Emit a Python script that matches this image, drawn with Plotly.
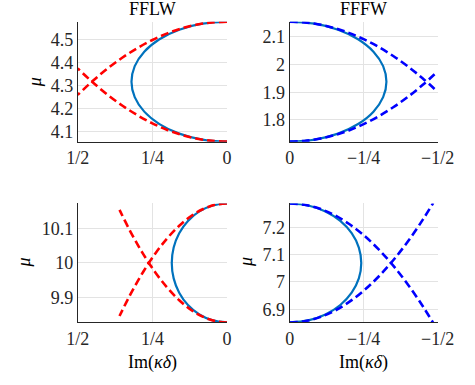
import plotly.graph_objects as go

# ---------------- data ----------------
# Column FFLW, row 1
fflw1_solid_x = [0, 0.0828, 0.16, 0.2263, 0.2771, 0.3091, 0.32, 0.3091, 0.2771, 0.2263, 0.16, 0.0828, 0]
fflw1_solid_mu = [4.576, 4.5672, 4.5413, 4.5001, 4.4465, 4.3840, 4.317, 4.2500, 4.1875, 4.1339, 4.0927, 4.0668, 4.058]
fflw1_dash_x = [0, 0.05, 0.1, 0.15, 0.2, 0.25, 0.3, 0.35, 0.4, 0.45, 0.5]
fflw1_dash_up = [4.576, 4.5728, 4.5633, 4.5475, 4.5254, 4.4969, 4.4621, 4.4210, 4.3736, 4.3198, 4.2597]
fflw1_dash_lo = [4.058, 4.0612, 4.0707, 4.0865, 4.1086, 4.1371, 4.1719, 4.2130, 4.2604, 4.3142, 4.3743]

# Column FFFW, row 1
fffw1_solid_x = [0, -0.0846, -0.1635, -0.2312, -0.2832, -0.3159, -0.327, -0.3159, -0.2832, -0.2312, -0.1635, -0.0846, 0]
fffw1_solid_mu = [2.154, 2.1466, 2.1251, 2.0907, 2.046, 1.9939, 1.938, 1.8821, 1.830, 1.7853, 1.7509, 1.7294, 1.722]
fffw1_dash_x = [0, -0.05, -0.1, -0.15, -0.2, -0.25, -0.3, -0.35, -0.4, -0.45, -0.5]
fffw1_dash_up = [2.154, 2.1515, 2.1439, 2.1313, 2.1136, 2.0909, 2.0631, 2.0303, 1.9924, 1.9495, 1.9015]
fffw1_dash_lo = [1.722, 1.7245, 1.7321, 1.7447, 1.7624, 1.7851, 1.8129, 1.8457, 1.8836, 1.9265, 1.9745]

# Column FFLW, row 2
fflw2_solid_x = [0, 0.0479, 0.0925, 0.1308, 0.1602, 0.1787, 0.185, 0.1787, 0.1602, 0.1308, 0.0925, 0.0479, 0]
fflw2_solid_mu = [10.172, 10.1661, 10.149, 10.1216, 10.086, 10.0445, 10.0, 9.9555, 9.914, 9.8784, 9.851, 9.8339, 9.828]
fflw2_dash_x = [0, 0.04, 0.08, 0.12, 0.16, 0.2, 0.24, 0.28, 0.32, 0.36]
fflw2_dash_up = [10.172, 10.168, 10.1559, 10.1359, 10.1077, 10.0716, 10.0274, 9.9752, 9.915, 9.8467]
fflw2_dash_lo = [9.828, 9.832, 9.8441, 9.8641, 9.8923, 9.9284, 9.9726, 10.0248, 10.085, 10.1533]

# Column FFFW, row 2
fffw2_solid_x = [0, -0.0626, -0.121, -0.1711, -0.2096, -0.2338, -0.242, -0.2338, -0.2096, -0.1711, -0.121, -0.0626, 0]
fffw2_solid_mu = [7.2875, 7.2801, 7.2583, 7.2236, 7.1785, 7.1259, 7.0695, 7.0131, 6.9605, 6.9154, 6.8807, 6.8589, 6.8515]
fffw2_dash_x = [0, -0.05, -0.1, -0.15, -0.2, -0.25, -0.3, -0.35, -0.4, -0.45, -0.485]
fffw2_dash_up = [7.2875, 7.2829, 7.2689, 7.2457, 7.2131, 7.1713, 7.1201, 7.0597, 6.9899, 6.9109, 6.85]
fffw2_dash_lo = [6.8515, 6.8562, 6.8701, 6.8934, 6.9259, 6.9678, 7.0189, 7.0794, 7.1491, 7.2282, 7.289]

# tick labels
left_xticks = [0.5, 0.25, 0]
left_xlabels = ["1/2", "1/4", "0"]
right_xticks = [0, -0.25, -0.5]
right_xlabels = ["0", "\u22121/4", "\u22121/2"]
fflw1_yticks = [4.1, 4.2, 4.3, 4.4, 4.5]
fflw1_ylabels = ["4.1", "4.2", "4.3", "4.4", "4.5"]
fffw1_yticks = [1.8, 1.9, 2.0, 2.1]
fffw1_ylabels = ["1.8", "1.9", "2", "2.1"]
fflw2_yticks = [9.9, 10.0, 10.1]
fflw2_ylabels = ["9.9", "10", "10.1"]
fffw2_yticks = [6.9, 7.0, 7.1, 7.2]
fffw2_ylabels = ["6.9", "7", "7.1", "7.2"]

# ---------------- styling ----------------
SOLID = "#0072BD"
FONT = "Liberation Serif, Times New Roman, serif"
FS = 18
W, H = 475, 385

fig = go.Figure()

panels = [
    ("x", "y", fflw1_solid_x, fflw1_solid_mu, fflw1_dash_x, fflw1_dash_up, fflw1_dash_lo, "#FF0000"),
    ("x2", "y2", fffw1_solid_x, fffw1_solid_mu, fffw1_dash_x, fffw1_dash_up, fffw1_dash_lo, "#0000FF"),
    ("x3", "y3", fflw2_solid_x, fflw2_solid_mu, fflw2_dash_x, fflw2_dash_up, fflw2_dash_lo, "#FF0000"),
    ("x4", "y4", fffw2_solid_x, fffw2_solid_mu, fffw2_dash_x, fffw2_dash_up, fffw2_dash_lo, "#0000FF"),
]
for xa, ya, sx, sy, dx, du, dl, dc in panels:
    fig.add_trace(go.Scatter(x=sx, y=sy, mode="lines", xaxis=xa, yaxis=ya,
                             line=dict(color=SOLID, width=2.2, shape="spline", smoothing=1.0),
                             showlegend=False, hoverinfo="skip"))
    for dy in (du, dl):
        fig.add_trace(go.Scatter(x=dx, y=dy, mode="lines", xaxis=xa, yaxis=ya,
                                 line=dict(color=dc, width=2.6, dash="8px,4px", shape="spline"),
                                 showlegend=False, hoverinfo="skip"))

def px_x(a, b):
    return [a / W, b / W]

def px_y(top, bottom):
    return [1 - bottom / H, 1 - top / H]

LX = px_x(70, 229)
RX = px_x(295.7, 453.3)
TY = px_y(21.7, 142)
BY = px_y(204, 323.3)

def axis(**kw):
    d = dict(showline=True, linecolor="#262626", linewidth=1, mirror=False,
             showgrid=True, gridcolor="#E3E3E3", gridwidth=1, zeroline=False,
             ticks="", tickmode="array",
             tickfont=dict(family=FONT, size=FS, color="#262626"),
             fixedrange=True)
    d.update(kw)
    return d

fig.update_layout(
    width=W, height=H, autosize=False,
    margin=dict(l=0, r=0, t=0, b=0),
    font=dict(family=FONT, size=FS, color="#262626"),
    paper_bgcolor="white", plot_bgcolor="white",
    xaxis=axis(domain=LX, range=[0.5, 0], anchor="y",
               tickvals=left_xticks, ticktext=left_xlabels),
    yaxis=axis(domain=TY, range=[4.058, 4.576], anchor="x",
               tickvals=fflw1_yticks, ticktext=fflw1_ylabels),
    xaxis2=axis(domain=RX, range=[0, -0.5], anchor="y2",
                tickvals=right_xticks, ticktext=right_xlabels),
    yaxis2=axis(domain=TY, range=[1.722, 2.154], anchor="x2",
                tickvals=fffw1_yticks, ticktext=fffw1_ylabels),
    xaxis3=axis(domain=LX, range=[0.5, 0], anchor="y3",
                tickvals=left_xticks, ticktext=left_xlabels),
    yaxis3=axis(domain=BY, range=[9.828, 10.172], anchor="x3",
                tickvals=fflw2_yticks, ticktext=fflw2_ylabels),
    xaxis4=axis(domain=RX, range=[0, -0.5], anchor="y4",
                tickvals=right_xticks, ticktext=right_xlabels),
    yaxis4=axis(domain=BY, range=[6.8515, 7.2875], anchor="x4",
                tickvals=fffw2_yticks, ticktext=fffw2_ylabels),
)

def ann(text, xpx, ypx, angle=0, size=FS):
    fig.add_annotation(text=text, x=xpx / W, y=1 - ypx / H, xref="paper", yref="paper",
                       showarrow=False, textangle=angle, xanchor="center", yanchor="middle",
                       font=dict(family=FONT, size=size, color="#000000"))

ann("FFLW", 149.5, 9)
ann("FFFW", 374.5, 9)
ann("<i>μ</i>", 24, 83, angle=-90)
ann("<i>μ</i>", 13, 263, angle=-90)
ann("<i>μ</i>", 250, 263, angle=-90)
ann("Im(<i>κδ</i>)", 149.5, 363)
ann("Im(<i>κδ</i>)", 374.5, 363)

fig.write_html("out.html")
